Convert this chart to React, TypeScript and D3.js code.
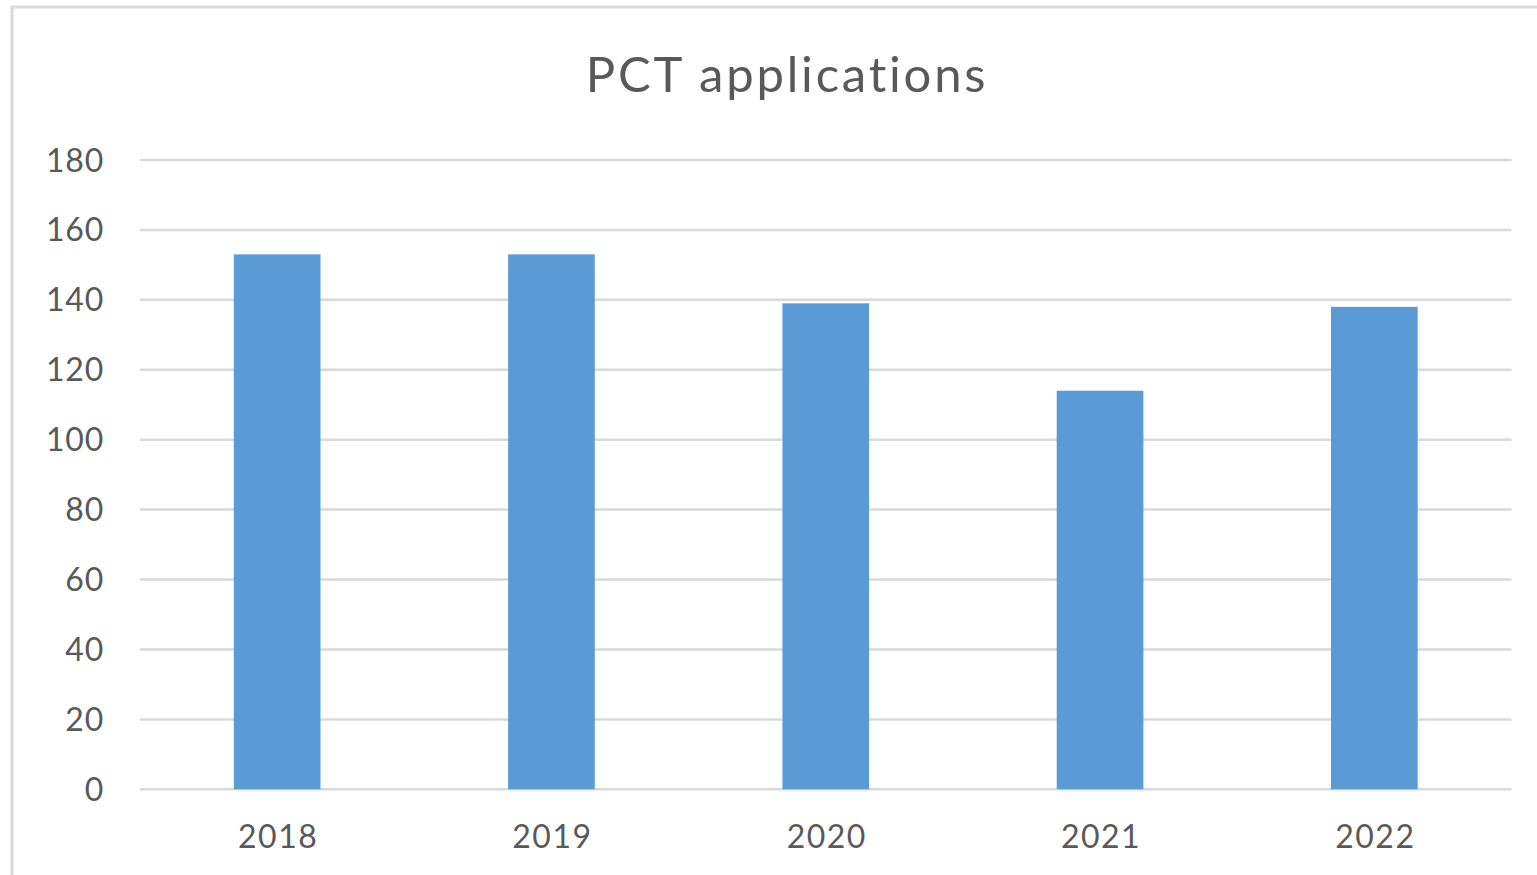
import React, { useEffect } from "react";
import * as d3 from "d3";

const categories = ["2018", "2019", "2020", "2021", "2022"];
const values = [153, 153, 139, 114, 138];
const yTicks = [0, 20, 40, 60, 80, 100, 120, 140, 160, 180];
const title = "PCT applications";

const W = 1537;
const H = 875;
const FONT = "Lato, 'Open Sans', sans-serif";

export default function App() {
  useEffect(() => {
    document.body.style.margin = "0";
    document.body.style.overflow = "hidden";
  }, []);

  const x = d3
    .scaleBand<string>()
    .domain(categories)
    .range([140, 1511.5])
    .paddingInner(0.684)
    .paddingOuter(0.342);
  const y = d3.scaleLinear().domain([0, 180]).range([789.3, 160]);

  return (
    <svg width={W} height={H} style={{ display: "block", position: "absolute", left: 0, top: 0 }}>
      <rect x={0} y={0} width={W} height={H} fill="#ffffff" />
      <rect x={12} y={7} width={1700} height={1000} fill="none" stroke="#d9d9d9" strokeWidth={3} />
      <text
        x={787}
        y={92}
        textAnchor="middle"
        fontFamily={FONT}
        fontSize={49}
        letterSpacing={2.8}
        fill="#595959"
      >
        {title}
      </text>
      {yTicks.map((t) => (
        <g key={t}>
          <line x1={140} x2={1511.5} y1={y(t)} y2={y(t)} stroke="#d9d9d9" strokeWidth={2.5} />
          <text
            x={104}
            y={y(t)}
            dy="0.36em"
            textAnchor="end"
            fontFamily={FONT}
            fontSize={32}
            letterSpacing={0.8}
            fill="#595959"
          >
            {t}
          </text>
        </g>
      ))}
      {categories.map((c, i) => (
        <g key={c}>
          <rect
            x={x(c)}
            y={y(values[i])}
            width={x.bandwidth()}
            height={y(0) - y(values[i])}
            fill="#5b9bd5"
          />
          <text
            x={(x(c) as number) + x.bandwidth() / 2 + 1}
            y={848}
            textAnchor="middle"
            fontFamily={FONT}
            fontSize={32}
            letterSpacing={1.5}
            fill="#595959"
          >
            {c}
          </text>
        </g>
      ))}
    </svg>
  );
}
